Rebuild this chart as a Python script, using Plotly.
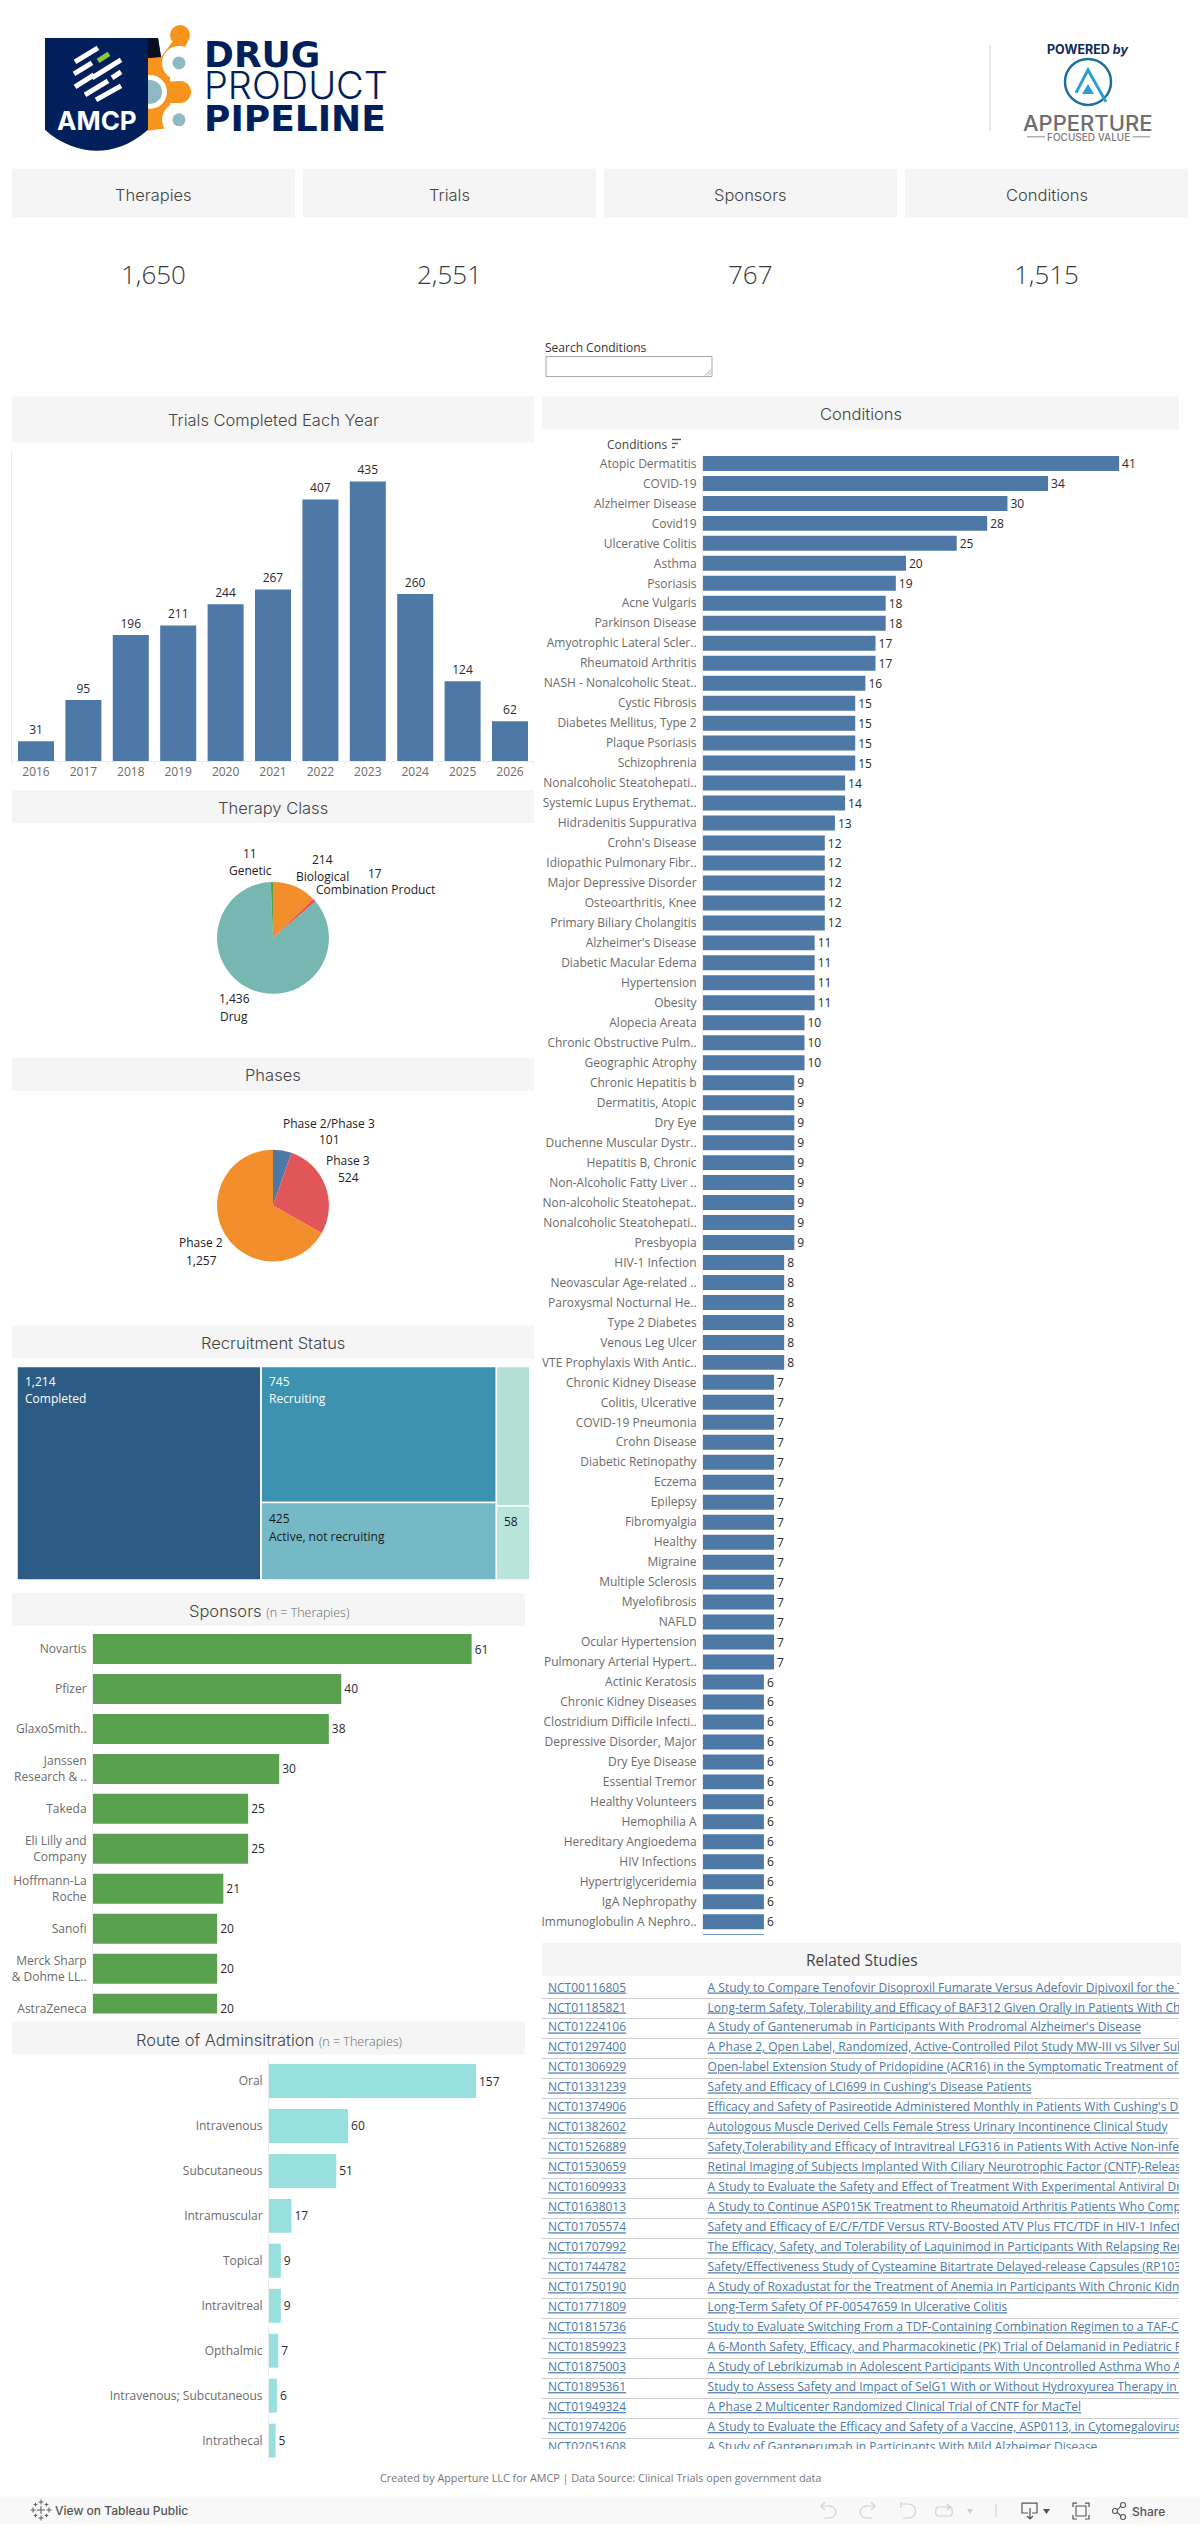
import re
import plotly.graph_objects as go

# ---------------- data ----------------
card_titles = ["Therapies", "Trials", "Sponsors", "Conditions"]
card_values = ["1,650", "2,551", "767", "1,515"]

years = ["2016", "2017", "2018", "2019", "2020", "2021", "2022", "2023", "2024", "2025", "2026"]
trials_completed = [31, 95, 196, 211, 244, 267, 407, 435, 260, 124, 62]

class_labels = ["Biological", "Combination Product", "Drug", "Genetic"]
class_values = [214, 17, 1436, 11]
class_colors = ["#f28e2b", "#e15759", "#76b7b2", "#59a14f"]

phase_labels = ["Phase 2/Phase 3", "Phase 3", "Phase 2"]
phase_values = [101, 524, 1257]
phase_colors = ["#4e79a7", "#e15759", "#f28e2b"]

status_ids = ["root", "Completed", "col2", "Recruiting", "Active, not recruiting", "col3", "Other", "Small"]
status_parents = ["", "root", "root", "col2", "col2", "root", "col3", "col3"]
status_values = [2551, 1214, 1170, 745, 425, 167, 109, 58]
status_colors = ["#ffffff", "#2c5b85", "#3b92b1", "#3b92b1", "#74b9c5", "#b3dfd5", "#b3dfd5", "#b9e4d9"]

sponsors = ["Novartis", "Pfizer", "GlaxoSmith..", "Janssen<br>Research & ..", "Takeda",
            "Eli Lilly and<br>Company", "Hoffmann-La<br>Roche", "Sanofi",
            "Merck Sharp<br>& Dohme LL..", "AstraZeneca"]
sponsor_values = [61, 40, 38, 30, 25, 25, 21, 20, 20, 20]

routes = ["Oral", "Intravenous", "Subcutaneous", "Intramuscular", "Topical", "Intravitreal",
          "Opthalmic", "Intravenous; Subcutaneous", "Intrathecal"]
route_values = [157, 60, 51, 17, 9, 9, 7, 6, 5]

conditions = [
    "Atopic Dermatitis", "COVID-19", "Alzheimer Disease", "Covid19", "Ulcerative Colitis", "Asthma",
    "Psoriasis", "Acne Vulgaris", "Parkinson Disease", "Amyotrophic Lateral Scler..", "Rheumatoid Arthritis",
    "NASH - Nonalcoholic Steat..", "Cystic Fibrosis", "Diabetes Mellitus, Type 2", "Plaque Psoriasis",
    "Schizophrenia", "Nonalcoholic Steatohepati..", "Systemic Lupus Erythemat..", "Hidradenitis Suppurativa",
    "Crohn's Disease", "Idiopathic Pulmonary Fibr..", "Major Depressive Disorder", "Osteoarthritis, Knee",
    "Primary Biliary Cholangitis", "Alzheimer's Disease", "Diabetic Macular Edema", "Hypertension", "Obesity",
    "Alopecia Areata", "Chronic Obstructive Pulm..", "Geographic Atrophy", "Chronic Hepatitis b",
    "Dermatitis, Atopic", "Dry Eye", "Duchenne Muscular Dystr..", "Hepatitis B, Chronic",
    "Non-Alcoholic Fatty Liver ..", "Non-alcoholic Steatohepat..", "Nonalcoholic Steatohepati..", "Presbyopia",
    "HIV-1 Infection", "Neovascular Age-related ..", "Paroxysmal Nocturnal He..", "Type 2 Diabetes",
    "Venous Leg Ulcer", "VTE Prophylaxis With Antic..", "Chronic Kidney Disease", "Colitis, Ulcerative",
    "COVID-19 Pneumonia", "Crohn Disease", "Diabetic Retinopathy", "Eczema", "Epilepsy", "Fibromyalgia",
    "Healthy", "Migraine", "Multiple Sclerosis", "Myelofibrosis", "NAFLD", "Ocular Hypertension",
    "Pulmonary Arterial Hypert..", "Actinic Keratosis", "Chronic Kidney Diseases", "Clostridium Difficile Infecti..",
    "Depressive Disorder, Major", "Dry Eye Disease", "Essential Tremor", "Healthy Volunteers", "Hemophilia A",
    "Hereditary Angioedema", "HIV Infections", "Hypertriglyceridemia", "IgA Nephropathy",
    "Immunoglobulin A Nephro..", "",
]
condition_values = [41, 34, 30, 28, 25, 20, 19, 18, 18, 17, 17, 16, 15, 15, 15, 15, 14, 14, 13, 12, 12, 12, 12, 12,
                    11, 11, 11, 11, 10, 10, 10, 9, 9, 9, 9, 9, 9, 9, 9, 9, 8, 8, 8, 8, 8, 8,
                    7, 7, 7, 7, 7, 7, 7, 7, 7, 7, 7, 7, 7, 7, 7,
                    6, 6, 6, 6, 6, 6, 6, 6, 6, 6, 6, 6, 6, 6]

study_ids = ["NCT00116805", "NCT01185821", "NCT01224106", "NCT01297400", "NCT01306929", "NCT01331239",
             "NCT01374906", "NCT01382602", "NCT01526889", "NCT01530659", "NCT01609933", "NCT01638013",
             "NCT01705574", "NCT01707992", "NCT01744782", "NCT01750190", "NCT01771809", "NCT01815736",
             "NCT01859923", "NCT01875003", "NCT01895361", "NCT01949324", "NCT01974206", "NCT02051608"]
study_titles = [
    "A Study to Compare Tenofovir Disoproxil Fumarate Versus Adefovir Dipivoxil for the Treatment",
    "Long-term Safety, Tolerability and Efficacy of BAF312 Given Orally in Patients With Chronic",
    "A Study of Gantenerumab in Participants With Prodromal Alzheimer's Disease",
    "A Phase 2, Open Label, Randomized, Active-Controlled Pilot Study MW-III vs Silver Sulfadiazine",
    "Open-label Extension Study of Pridopidine (ACR16) in the Symptomatic Treatment of Huntington",
    "Safety and Efficacy of LCI699 in Cushing's Disease Patients",
    "Efficacy and Safety of Pasireotide Administered Monthly in Patients With Cushing's Disease",
    "Autologous Muscle Derived Cells Female Stress Urinary Incontinence Clinical Study",
    "Safety,Tolerability and Efficacy of Intravitreal LFG316 in Patients With Active Non-infectious",
    "Retinal Imaging of Subjects Implanted With Ciliary Neurotrophic Factor (CNTF)-Releasing",
    "A Study to Evaluate the Safety and Effect of Treatment With Experimental Antiviral Drugs",
    "A Study to Continue ASP015K Treatment to Rheumatoid Arthritis Patients Who Completed",
    "Safety and Efficacy of E/C/F/TDF Versus RTV-Boosted ATV Plus FTC/TDF in HIV-1 Infected",
    "The Efficacy, Safety, and Tolerability of Laquinimod in Participants With Relapsing Remitting",
    "Safety/Effectiveness Study of Cysteamine Bitartrate Delayed-release Capsules (RP103)",
    "A Study of Roxadustat for the Treatment of Anemia in Participants With Chronic Kidney Disease",
    "Long-Term Safety Of PF-00547659 In Ulcerative Colitis",
    "Study to Evaluate Switching From a TDF-Containing Combination Regimen to a TAF-Containing",
    "A 6-Month Safety, Efficacy, and Pharmacokinetic (PK) Trial of Delamanid in Pediatric Participants",
    "A Study of Lebrikizumab in Adolescent Participants With Uncontrolled Asthma Who Are",
    "Study to Assess Safety and Impact of SelG1 With or Without Hydroxyurea Therapy in Sickle",
    "A Phase 2 Multicenter Randomized Clinical Trial of CNTF for MacTel",
    "A Study to Evaluate the Efficacy and Safety of a Vaccine, ASP0113, in Cytomegalovirus",
    "A Study of Gantenerumab in Participants With Mild Alzheimer Disease",
]

# ---------------- style ----------------
W, H = 1200, 2527
BLUE, GREEN, AQUA = "#4e79a7", "#59a14f", "#97e0dd"
HDR = "#f5f5f5"
AXIS = "#ececec"
TICK = "#6b6b6b"
LBL = "#2b2b2b"
TITLE_FONT = "Inter"
BODY_FONT = "Open Sans"


def fx(x):
    return x / W


def fy(y):
    return 1 - y / H


def dx(a, b):
    return [fx(a), fx(b)]


def dy(top, bottom):
    return [fy(bottom), fy(top)]


shapes, annotations = [], []


def path_of(d):
    out, is_x = [], True
    for tok in re.findall(r"[A-Za-z]|-?[\d.]+", d):
        if tok.isalpha():
            out.append(tok)
            is_x = True
        else:
            out.append(f"{fx(float(tok)):.6f}" if is_x else f"{fy(float(tok)):.6f}")
            is_x = not is_x
    return " ".join(out)


def draw(d, color="#555555", width=1.2, fill=None):
    shapes.append(dict(type="path", xref="paper", yref="paper", path=path_of(d),
                       line=dict(color=color, width=width), fillcolor=fill or "rgba(0,0,0,0)"))


def rect(x0, y0, x1, y1, fill, line=None, lw=0):
    shapes.append(dict(type="rect", xref="paper", yref="paper", x0=fx(x0), x1=fx(x1), y0=fy(y0), y1=fy(y1),
                       fillcolor=fill, line=dict(color=line or fill, width=lw)))


def circle(cx, cy, r, fill, line=None, lw=0):
    shapes.append(dict(type="circle", xref="paper", yref="paper", x0=fx(cx - r), x1=fx(cx + r),
                       y0=fy(cy - r), y1=fy(cy + r), fillcolor=fill,
                       line=dict(color=line or fill, width=lw)))


def seg(x0, y0, x1, y1, color, width=1):
    shapes.append(dict(type="line", xref="paper", yref="paper", x0=fx(x0), x1=fx(x1), y0=fy(y0), y1=fy(y1),
                       line=dict(color=color, width=width)))


def text(x, y, s, size=12, color=LBL, anchor="center", family=BODY_FONT, weight=None):
    f = dict(size=size, color=color, family=family)
    if weight:
        f["weight"] = weight
    annotations.append(dict(x=fx(x), y=fy(y), xref="paper", yref="paper", text=s, showarrow=False,
                            xanchor=anchor, yanchor="middle", font=f, borderpad=0, borderwidth=0, align="left"))


def header(x0, y0, x1, y1, s, tx=None, size=16.5, family=TITLE_FONT, weight=300, shift=1):
    rect(x0, y0, x1, y1, HDR)
    text(tx if tx is not None else (x0 + x1) / 2, (y0 + y1) / 2 + shift, s, size=size, color="#444444",
         family=family, weight=weight)


# ---------------- logos ----------------
ORANGE = "#f7941d"
NAVY = "#011f5b"
PALE = "#8fb8c2"
circle(180, 35, 10, ORANGE)
draw("M 148 58 L 161 57 L 173 41 L 188 42 L 176 60 L 170 66 L 170 128 L 148 131 Z", ORANGE, 0, ORANGE)
circle(180, 92, 11, ORANGE)
draw("M 160 82 L 182 81 L 182 103 L 160 103 Z", ORANGE, 0, ORANGE)
circle(179, 63, 17, "#ffffff")
circle(179, 120, 17, "#ffffff")
circle(150, 92, 17, "#ffffff")
circle(179, 63, 6.5, PALE)
circle(179, 120, 6.5, PALE)
circle(150, 92, 12, PALE)
draw("M 45 38 L 158 38 L 161 57 L 148 58 L 148 130 C 130 146 112 151 97 151 C 80 151 60 144 45 130 Z",
     NAVY, 0, NAVY)
draw("M 148 38 L 158 38 L 161 57 L 148 58 Z", "#0a0f22", 0, "#0a0f22")
for x0, y0, x1, y1 in [(75, 62, 98, 48), (74, 74, 92, 63), (92, 78, 121, 60), (75, 87, 94, 75),
                       (112, 78, 121, 72), (85, 95, 108, 81), (96, 100, 121, 86)]:
    seg(x0, y0, x1, y1, "#ffffff", 5)
seg(98, 61, 109, 54, "#8cc63f", 5)
text(97, 121, "AMCP", size=26, color="#ffffff", family="Inter", weight=700)
BOLD_SPAN = '<span style="font-family:DejaVu Sans;font-size:36px;font-weight:bold">%s</span>'
text(204, 87,
     BOLD_SPAN % "DRUG" + '<br><span style="font-size:38px">PRODUCT</span><br>' + BOLD_SPAN % "PIPELINE",
     size=24.6, color=NAVY, anchor="left", family="Inter", weight=300)

seg(990, 45, 990, 131, "#d4d4d4", 1)
text(1087, 50, '<b>POWERED</b> <i>by</i>', size=12.5, color="#0f2a5c", family="Inter", weight=700)
circle(1088, 82, 23, "rgba(0,0,0,0)", "#1f6f9e", 2.5)
draw("M 1076 93 L 1088 70 L 1106 102", "#2a9fd6", 3)
draw("M 1082 94 L 1088 84 L 1094 94 Z", "#2a9fd6", 0, "#2a9fd6")
text(1088, 123, "APPERTURE", size=22, color="#6d6e71", family="Inter", weight=500)
text(1088, 137.5, "FOCUSED VALUE", size=10, color="#7a7a7a", family="Inter", weight=500)
seg(1027, 137, 1045, 137, "#8a8a8a", 1)
seg(1133, 137, 1150, 137, "#8a8a8a", 1)

# ---------------- cards ----------------
card_edges = [(12, 295), (303, 596), (604, 897), (905, 1188)]
for (a, b), t, v in zip(card_edges, card_titles, card_values):
    rect(a, 169, b, 218, HDR)
    text((a + b) / 2, 195, t, size=16.5, color="#444444", family=TITLE_FONT, weight=300)
    text((a + b) / 2, 274, v, size=26, color="#3a3a3a", family=BODY_FONT, weight=300)

text(545, 348, "Search Conditions", size=12, color="#333333", anchor="left")
rect(546, 357, 712, 377, "#ffffff", "#a6a6a6", 1)
seg(705, 376, 711, 370, "#8a8a8a", 0.8)
seg(708, 376, 711, 373, "#8a8a8a", 0.8)

# ---------------- section headers ----------------
header(12, 397, 534, 443, "Trials Completed Each Year", shift=0)
header(12, 791, 534, 824, "Therapy Class")
header(12, 1059, 534, 1092, "Phases")
header(12, 1327, 534, 1360, "Recruitment Status")
NOTE = '<span style="font-size:12.5px;font-family:Open Sans;color:#666666">(n = Therapies)</span>'
header(12, 1595, 525, 1628, "Sponsors " + NOTE, tx=269)
header(12, 2024, 525, 2057, "Route of Adminsitration " + NOTE, tx=269, shift=2)
header(542, 397, 1179, 430, "Conditions")
header(542, 1945, 1181, 1978, "Related Studies", size=15.5, family=BODY_FONT, weight=400)

# ---------------- figure ----------------
fig = go.Figure()
layout_axes = {}


def axes(n, xdom, ydom, xa, ya):
    sx = "" if n == 1 else str(n)
    layout_axes[f"xaxis{sx}"] = dict(domain=xdom, anchor=f"y{sx}", fixedrange=True, **xa)
    layout_axes[f"yaxis{sx}"] = dict(domain=ydom, anchor=f"x{sx}", fixedrange=True, **ya)
    return f"x{sx}", f"y{sx}"


tickfont = dict(family=BODY_FONT, size=12, color=TICK)
label_font = dict(family=BODY_FONT, size=12, color=LBL)


def hbars(n, labels, values, color, xdom, ydom, xmax, ymax, gap):
    xn, yn = axes(
        n, xdom, ydom,
        dict(range=[0, xmax], showgrid=False, zeroline=False, showticklabels=False, ticks=""),
        dict(range=[ymax, -0.5], tickmode="array", tickvals=list(range(len(labels))), ticktext=labels,
             showgrid=False, zeroline=False, showline=True, linecolor=AXIS, linewidth=1,
             ticks="outside", ticklen=3, tickcolor="rgba(0,0,0,0)", tickfont=tickfont),
    )
    fig.add_bar(x=values, y=list(range(len(labels))), orientation="h", marker_color=color, marker_line_width=0,
                width=1 - gap, text=values, textposition="outside", textfont=label_font, cliponaxis=True,
                constraintext="none", xaxis=xn, yaxis=yn, hoverinfo="skip")


# Trials by year
xn, yn = axes(1, dx(12.3, 533.7), dy(452, 762),
              dict(type="category", tickson="boundaries", ticks="outside", ticklen=3, tickcolor=AXIS,
                   showline=True, linecolor=AXIS, showgrid=False, tickfont=tickfont),
              dict(range=[0, 481.6], showticklabels=False, showgrid=False, zeroline=False,
                   showline=True, linecolor=AXIS, ticks=""))
fig.add_bar(x=years, y=trials_completed, marker_color=BLUE, marker_line_width=0, width=0.76,
            text=trials_completed, textposition="outside", textfont=label_font, constraintext="none",
            xaxis=xn, yaxis=yn, hoverinfo="skip")

# Pies
fig.add_pie(labels=class_labels, values=class_values, marker=dict(colors=class_colors, line=dict(width=0)),
            sort=False, direction="clockwise", rotation=0, textinfo="none", hoverinfo="skip",
            domain=dict(x=dx(217, 329), y=dy(883, 995)))
fig.add_pie(labels=phase_labels, values=phase_values, marker=dict(colors=phase_colors, line=dict(width=0)),
            sort=False, direction="clockwise", rotation=0, textinfo="none", hoverinfo="skip",
            domain=dict(x=dx(217, 329), y=dy(1151, 1263)))
for x, y, s in [(250, 855, f"{class_values[3]}"), (250, 872, class_labels[3]),
                (322, 861, f"{class_values[0]}"), (322, 878, class_labels[0]),
                (375, 875, f"{class_values[1]}"), (375, 891, class_labels[1]),
                (234, 1000, f"{class_values[2]:,}"), (234, 1018, class_labels[2]),
                (329, 1125, phase_labels[0]), (329, 1141, f"{phase_values[0]}"),
                (348, 1162, phase_labels[1]), (348, 1179, f"{phase_values[1]}"),
                (201, 1244, phase_labels[2]), (201, 1262, f"{phase_values[2]:,}")]:
    text(x, y, s, size=12, color="#222222")

# Treemap
fig.add_treemap(ids=status_ids, labels=status_ids, parents=status_parents, values=status_values,
                branchvalues="total", sort=False, textinfo="none", hoverinfo="skip",
                tiling=dict(packing="slice-dice", pad=0),
                marker=dict(colors=status_colors, pad=dict(t=0, l=0, r=0, b=0), line=dict(color="#ffffff", width=1.5)),
                pathbar=dict(visible=False), domain=dict(x=dx(17, 530), y=dy(1368, 1582)))
text(24.5, 1383.5, f"{status_values[1]:,}", color="#ffffff", anchor="left")
text(24.5, 1400.5, status_ids[1], color="#ffffff", anchor="left")
text(269, 1383.5, f"{status_values[3]}", color="#ffffff", anchor="left")
text(269, 1400.5, status_ids[3], color="#ffffff", anchor="left")
text(269, 1520, f"{status_values[4]}", color="#1a1a1a", anchor="left")
text(269, 1538, status_ids[4], color="#1a1a1a", anchor="left")
text(504, 1523.5, f"{status_values[7]}", color="#1a1a1a", anchor="left")

# Horizontal bars
hbars(2, sponsors, sponsor_values, GREEN, dx(93, 525), dy(1631, 2016), 69.6, 9.125, 0.25)
hbars(3, routes, route_values, AQUA, dx(269, 525), dy(2061, 2466), 194.2, 8.5, 0.245)
hbars(4, conditions, condition_values, BLUE, dx(703, 1180), dy(454, 1937.4), 47.0, 73.67, 0.25)

# Conditions field label + sort icon
text(667, 445, "Conditions", size=12, color="#444444", anchor="right")
seg(672, 440, 681, 440, "#555555", 1.4)
seg(672, 444, 678, 444, "#555555", 1.4)
seg(672, 448, 675, 448, "#555555", 1.4)

# Related Studies table
rows = list(range(len(study_ids)))
xn, yn = axes(5, dx(542, 1179), dy(1980.5, 2452),
              dict(range=[0, 1], showgrid=False, zeroline=False, showticklabels=False, ticks=""),
              dict(range=[23.05, -0.52], tickmode="array", tickvals=[r - 0.5 for r in rows] + [rows[-1] + 0.5],
                   showgrid=True, gridcolor="#cfcfcf", gridwidth=1, zeroline=False, showticklabels=False, ticks=""))
fig.add_scatter(x=[0.0094] * len(rows), y=rows, text=study_ids, mode="text", textposition="middle right",
                textfont=dict(family=BODY_FONT, size=12, color=BLUE, lineposition="under"),
                cliponaxis=True, xaxis=xn, yaxis=yn, hoverinfo="skip")
fig.add_scatter(x=[0.26] * len(rows), y=rows, text=study_titles, mode="text", textposition="middle right",
                textfont=dict(family=BODY_FONT, size=12, color=BLUE, lineposition="under"),
                cliponaxis=True, xaxis=xn, yaxis=yn, hoverinfo="skip")

# Footer
text(600, 2480, "Created by Apperture LLC for AMCP | Data Source: Clinical Trials open government data",
     size=10.8, color="#777777")
rect(0, 2500, 1200, 2527, "#f8f8f8")
text(55, 2513.5, "View on Tableau Public", size=12, color="#555555", anchor="left", family="Inter", weight=500)
for cx, cy, r in [(41, 2513, 4), (41, 2505, 2.5), (41, 2521, 2.5), (33, 2513, 2.5), (49, 2513, 2.5),
                  (35.5, 2507.5, 1.8), (46.5, 2507.5, 1.8), (35.5, 2518.5, 1.8), (46.5, 2518.5, 1.8)]:
    seg(cx - r, cy, cx + r, cy, "#666666", 1.1)
    seg(cx, cy - r, cx, cy + r, "#666666", 1.1)

OFF = "#cfcfcf"
draw("M 821 2509 L 829 2509 C 838 2509 838 2521 829 2521 L 824 2521", OFF)
draw("M 825 2505 L 821 2509 L 825 2513", OFF)
draw("M 875 2509 L 867 2509 C 858 2509 858 2521 867 2521 L 872 2521", OFF)
draw("M 871 2505 L 875 2509 L 871 2513", OFF)
draw("M 901 2507 L 908 2507 C 918 2507 918 2521 908 2521 L 903 2521", OFF)
draw("M 901 2505 L 901 2511", OFF)
draw("M 938 2510 L 950 2510 C 953 2510 953 2519 950 2519 L 938 2519 C 935 2519 935 2510 938 2510", OFF)
draw("M 947 2507 L 950 2510 L 947 2513", OFF)
draw("M 967 2512 L 973 2512 L 970 2517 Z", OFF, 0, OFF)
seg(996, 2507, 996, 2520, OFF, 1)
draw("M 1028 2516 L 1022 2516 L 1022 2506 L 1037 2506 L 1037 2516 L 1032 2516")
draw("M 1030 2511 L 1030 2522 M 1027 2519 L 1030 2522 L 1033 2519")
draw("M 1043 2512 L 1050 2512 L 1046.5 2517 Z", "#555555", 0, "#555555")
draw("M 1073 2510 L 1073 2506 L 1077 2506 M 1085 2506 L 1089 2506 L 1089 2510 "
     "M 1089 2518 L 1089 2522 L 1085 2522 M 1077 2522 L 1073 2522 L 1073 2518")
rect(1076, 2509, 1086, 2519, "rgba(0,0,0,0)", "#555555", 1.1)
circle(1115, 2514, 2.5, "rgba(0,0,0,0)", "#555555", 1.1)
circle(1123, 2508, 2.5, "rgba(0,0,0,0)", "#555555", 1.1)
circle(1123, 2520, 2.5, "rgba(0,0,0,0)", "#555555", 1.1)
seg(1117, 2513, 1121, 2509, "#555555", 1.1)
seg(1117, 2515, 1121, 2519, "#555555", 1.1)
text(1132, 2514, "Share", size=12, color="#555555", anchor="left", family="Inter", weight=500)

fig.update_layout(width=W, height=H, margin=dict(l=0, r=0, t=0, b=0, pad=0), autosize=False,
                  paper_bgcolor="#ffffff", plot_bgcolor="#ffffff", showlegend=False, bargap=0.25,
                  font=dict(family=BODY_FONT), shapes=shapes, annotations=annotations, **layout_axes)

fig.write_html("out.html", config=dict(displayModeBar=False, staticPlot=False),
               post_script="document.body.style.margin='0';document.documentElement.style.overflow='hidden';")
